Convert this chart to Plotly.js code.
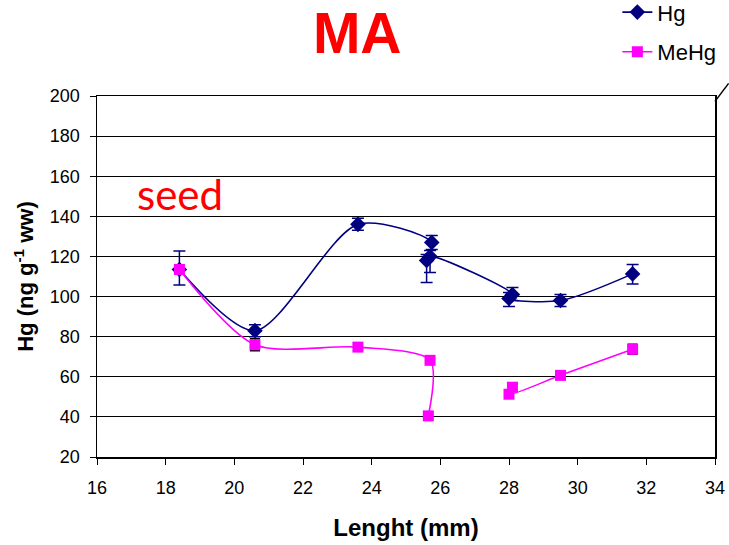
<!DOCTYPE html>
<html><head><meta charset="utf-8">
<script src="https://cdn.plot.ly/plotly-3.0.1.min.js"></script>
<style>body{margin:0;background:#fff}#c{width:729px;height:545px}</style>
</head><body><div id="c"></div>
<script>
// Hg series (data order as connected by the curve)
const hgX = [18.4, 20.6, 23.6, 25.75, 25.6, 25.7, 28.1, 28.0, 29.5, 31.6];
const hgY = [113.5, 83, 136, 127, 118, 120, 101, 99, 98, 111.3];
const hgErrPlus  = [9.2, 3, 3, 3.5, 3, 3, 3.5, 3, 3, 4.7];
const hgErrMinus = [7.7, 3, 3, 3.5, 11, 8, 3, 4, 3, 5];
// MeHg series (null separates the two segments)
const meX = [18.4, 20.6, 23.6, 25.7, 25.65, null, 28.1, 28.0, 29.5, 31.6];
const meY = [113.5, 76, 74.8, 68.2, 40.5, null, 54.8, 51.3, 60.7, 73.7];
const meErr = [2, 3, 1.5, 1.5, 1, 0, 1.5, 1.5, 1, 2.5];

const xTicks = [16, 18, 20, 22, 24, 26, 28, 30, 32, 34];
const yTicks = [20, 40, 60, 80, 100, 120, 140, 160, 180, 200];

const traces = [
  {x: hgX, y: hgY, name: 'Hg', legendgroup: 'a', type: 'scatter', mode: 'lines+markers',
   line: {color: '#000080', width: 1.6, shape: 'spline', smoothing: 0.8},
   marker: {symbol: 'diamond', size: 12, color: '#000080'},
   error_y: {type: 'data', array: hgErrPlus, arrayminus: hgErrMinus, color: '#000080', thickness: 1.5, width: 6}},
  {x: meX, y: meY, name: 'MeHg', legendgroup: 'b', type: 'scatter', mode: 'lines+markers', connectgaps: false,
   line: {color: '#FF00FF', width: 1.6, shape: 'spline', smoothing: 0.8},
   marker: {symbol: 'square', size: 11, color: '#FF00FF'},
   error_y: {type: 'data', array: meErr, color: '#000000', thickness: 1.5, width: 5}}
];

const layout = {
  width: 729, height: 545,
  margin: {l: 97, r: 14, t: 96, b: 88, autoexpand: false},
  paper_bgcolor: '#fff', plot_bgcolor: '#fff',
  font: {family: 'Liberation Sans, Arial, sans-serif', color: '#000'},
  showlegend: true,
  legend: {x: 0.842, y: 1.29, xanchor: 'left', yanchor: 'top', font: {size: 22},
           bgcolor: 'rgba(0,0,0,0)', traceorder: 'grouped', tracegroupgap: 8},
  title: {text: '<b>MA</b>', font: {size: 57, color: '#FF0000', family: 'Liberation Sans, Arial'},
          x: 0.49, xanchor: 'center', y: 0.94, yanchor: 'middle'},
  xaxis: {range: [16, 34], tickvals: xTicks, ticktext: xTicks.map(String),
          showgrid: false, zeroline: false, showline: true, mirror: true, linecolor: '#000', linewidth: 1.5,
          ticks: 'outside', ticklen: 6, tickcolor: '#000', tickfont: {size: 18}, ticklabelstandoff: 8,
          title: {text: '<b>Lenght (mm)</b>', font: {size: 24}, standoff: 22}},
  yaxis: {range: [20, 200], tickvals: yTicks, ticktext: yTicks.map(String),
          showgrid: true, gridcolor: '#000', gridwidth: 1.2, zeroline: false,
          showline: true, mirror: true, linecolor: '#000', linewidth: 1.5,
          ticks: 'outside', ticklen: 6, tickcolor: '#000', tickfont: {size: 18}, ticklabelstandoff: 6,
          title: {text: '<b>Hg (ng g<sup>-1</sup> ww)</b>', font: {size: 22}, standoff: 10}},
  annotations: [
    {text: 'seed', xref: 'x', yref: 'y', x: 17.1, y: 151, xanchor: 'left', yanchor: 'middle',
     showarrow: false, font: {size: 42, color: '#FF0000', family: 'Lato, Open Sans, sans-serif'}}
  ],
  shapes: [
    {type: 'line', xref: 'paper', yref: 'paper', x0: 1.0, y0: 0.985, x1: 1.022, y1: 1.035,
     line: {color: '#000', width: 1.5}}
  ]
};

Plotly.newPlot('c', traces, layout, {displayModeBar: false, staticPlot: true});
</script></body></html>
